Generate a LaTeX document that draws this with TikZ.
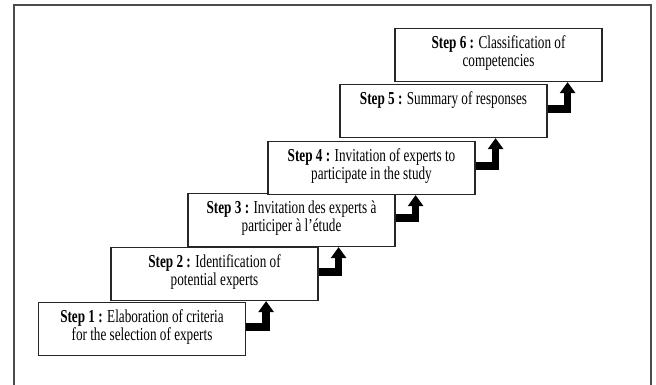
\documentclass[tikz,border=0pt]{standalone}
\usepackage{fontspec}
\setmainfont{Liberation Serif}
\usetikzlibrary{arrows.meta,calc}
\newcommand{\steplines}[1]{\scalebox{1}[1.38]{\fontsize{13.2}{12.3}\selectfont\begin{tabular}{@{}c@{}}#1\end{tabular}}}
\begin{document}
\begin{tikzpicture}[x=1pt,y=-1pt,
  stepbox/.style={draw=black!85,line width=1.2pt,minimum width=207pt,minimum height=53pt,inner sep=0pt,fill=white},
  steptext/.style={anchor=north,align=center,inner sep=0pt},
  uparrow/.style={line width=7.5pt,line join=miter,-{Triangle[width=15pt,length=11pt]}}]
\useasboundingbox (0,0) rectangle (656,385);
\draw[line width=1.8pt,black!70] (14,386) -- (14,5) -- (651,5) -- (651,386);
\node[stepbox] (b1) at (142,329) {};
\node[stepbox] (b2) at (214.5,274) {};
\node[stepbox] (b3) at (291.5,220) {};
\node[stepbox] (b4) at (371.5,168) {};
\node[stepbox] (b5) at (443.5,111) {};
\node[stepbox] (b6) at (498.5,55) {};
\node[steptext] (t1) at ($(b1.north)+(0,8)$) {\steplines{\textbf{Step 1 :} Elaboration of criteria\\for the selection of experts}};
\node[steptext] (t2) at ($(b2.north)+(0,8)$) {\steplines{\textbf{Step 2 :} Identification of\\potential experts}};
\node[steptext] (t3) at ($(b3.north)+(0,8)$) {\steplines{\textbf{Step 3 :} Invitation des experts à\\participer à l’étude}};
\node[steptext] (t4) at ($(b4.north)+(0,8)$) {\steplines{\textbf{Step 4 :} Invitation of experts to\\participate in the study}};
\node[steptext] (t5) at ($(b5.north)+(0,8)$) {\steplines{\textbf{Step 5 :} Summary of responses}};
\node[steptext] (t6) at ($(b6.north)+(0,8)$) {\steplines{\textbf{Step 6 :} Classification of\\competencies}};
\foreach \i/\j in {1/2,2/3,3/4,4/5,5/6}{
  \coordinate (s\i) at ($(b\i.east)+(0,-2)$);
  \coordinate (k\i) at ($(b\i.east)+(20,0)$);
  \draw[uparrow] (s\i) -| (k\i |- b\j.south);
}
\end{tikzpicture}
\end{document}
